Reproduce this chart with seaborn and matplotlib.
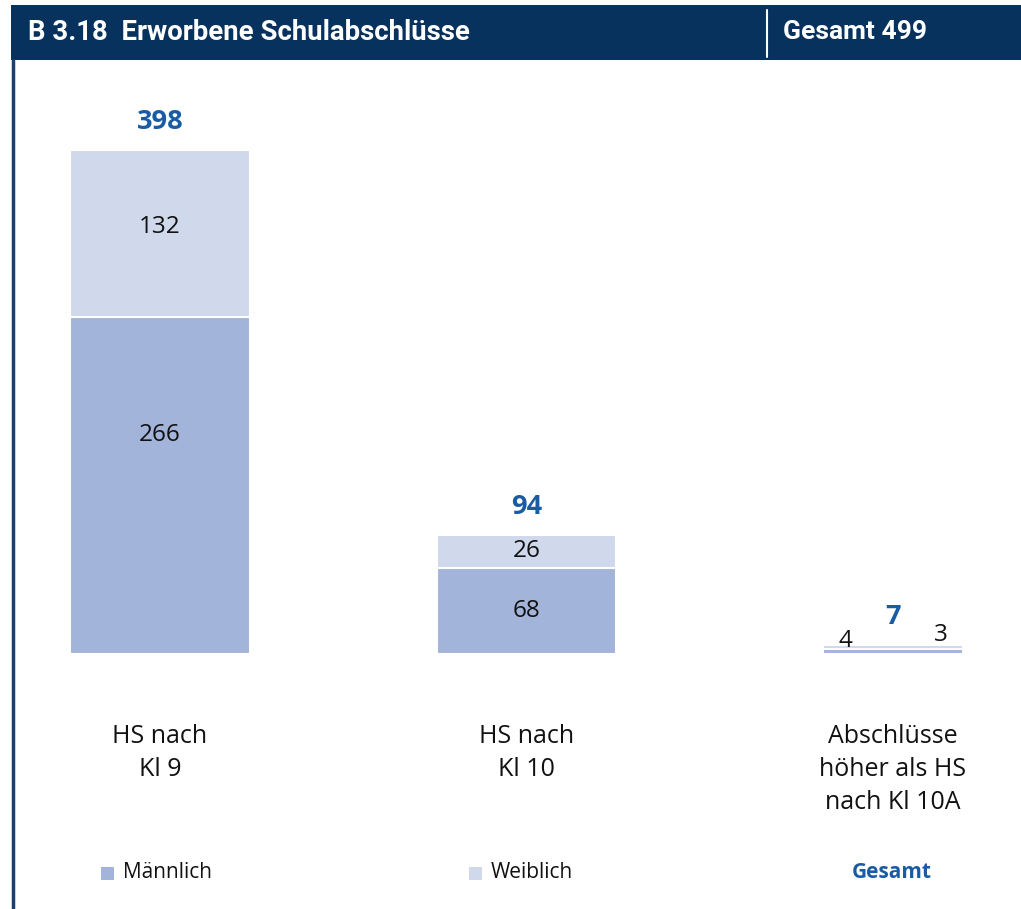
import pandas as pd
import seaborn as sns
import matplotlib.pyplot as plt
from matplotlib.patches import Rectangle
from matplotlib.lines import Line2D

categories = ["HS nach\nKl 9", "HS nach\nKl 10", "Abschlüsse\nhöher als HS\nnach Kl 10A"]
maennlich = [266, 68, 4]
weiblich = [132, 26, 3]
gesamt = [398, 94, 7]
title = "B 3.18  Erworbene Schulabschlüsse"
total_label = "Gesamt 499"

C_MALE = "#a3b4da"
C_FEMALE = "#d0d8ec"
C_BLUE = "#1a5ca4"
C_NAVY = "#08325e"

sns.set_theme(style="white")
plt.rcParams["font.family"] = ["Open Sans", "DejaVu Sans"]
HEAD_FONT = ["Liberation Sans Narrow", "Roboto", "DejaVu Sans"]

df = pd.DataFrame({"kat": categories, "m": maennlich, "w": weiblich, "g": gesamt})

W, H = 1021, 909
fig = plt.figure(figsize=(W / 100, H / 100), dpi=100)
ax = fig.add_axes([0, (H - 654) / H, 1, 594 / H])

# stacked: total in female colour, male on top of it
sns.barplot(data=df, x="kat", y="g", color=C_FEMALE, saturation=1, width=0.49,
            edgecolor="white", linewidth=1.5, ax=ax)
sns.barplot(data=df, x="kat", y="m", color=C_MALE, saturation=1, width=0.49,
            edgecolor="white", linewidth=1.5, ax=ax)

# third bar is narrower in the original
for p in ax.patches:
    if abs(p.get_x() + p.get_width() / 2 - 2) < 0.01:
        p.set_width(0.382)
        p.set_x(2 - 0.191)

ax.set_xlim(-160 / 366.5, (W - 160) / 366.5)
ax.set_ylim(0, 594 / 1.2663)
ax.set_xlabel("")
ax.set_ylabel("")
ax.set_yticks([])
ax.set_xticks([])
sns.despine(ax=ax, left=True, bottom=True)

for i in range(2):
    ax.text(i, maennlich[i] / 2 + (40 if i == 0 else 0), str(maennlich[i]),
            ha="center", va="center", fontsize=17.5, color="#111111")
    ax.text(i, maennlich[i] + weiblich[i] / 2 + (5 if i == 0 else 0), str(weiblich[i]),
            ha="center", va="center", fontsize=17.5, color="#111111")
for i in range(3):
    ax.text(i, gesamt[i] + 22, str(gesamt[i]), ha="center", va="center",
            fontsize=19.5, fontweight="bold", color=C_BLUE)
ax.text(2 - 0.13, 10, str(maennlich[2]), ha="center", va="center", fontsize=17.5, color="#111111")
ax.text(2 + 0.13, 15, str(weiblich[2]), ha="center", va="center", fontsize=17.5, color="#111111")

for i, lab in enumerate(categories):
    fig.text((160 + i * 366.5) / W, 1 - 724 / H, lab, ha="center", va="top",
             fontsize=18, color="#111111", linespacing=1.42)

# header band
fig.patches.append(Rectangle((11 / W, 1 - 60 / H), 1, 55 / H, transform=fig.transFigure,
                             facecolor=C_NAVY, edgecolor="none"))
fig.lines.append(Line2D([767 / W, 767 / W], [1 - 10 / H, 1 - 57 / H], transform=fig.transFigure,
                        color="white", lw=1.5))
fig.text(28 / W, 1 - 32 / H, title, ha="left", va="center", fontsize=19.8,
         fontweight="bold", color="white", family=HEAD_FONT)
fig.text(783 / W, 1 - 32 / H, total_label, ha="left", va="center", fontsize=19,
         fontweight="bold", color="white", family=HEAD_FONT)
# left border
fig.lines.append(Line2D([13 / W, 13 / W], [1 - 60 / H, 0], transform=fig.transFigure,
                        color="#1f3f6b", lw=2.5))

# legend row
for x0, lab, col in [(101, "Männlich", C_MALE), (469, "Weiblich", C_FEMALE)]:
    fig.patches.append(Rectangle((x0 / W, 1 - 880 / H), 13 / W, 13 / H, transform=fig.transFigure,
                                 facecolor=col, edgecolor="none"))
    fig.text((x0 + 22) / W, 1 - 873 / H, lab, ha="left", va="center", fontsize=15, color="#111111")
fig.text(852 / W, 1 - 873 / H, "Gesamt", ha="left", va="center", fontsize=15,
         fontweight="bold", color=C_BLUE)

fig.savefig("out.png", dpi=100)
